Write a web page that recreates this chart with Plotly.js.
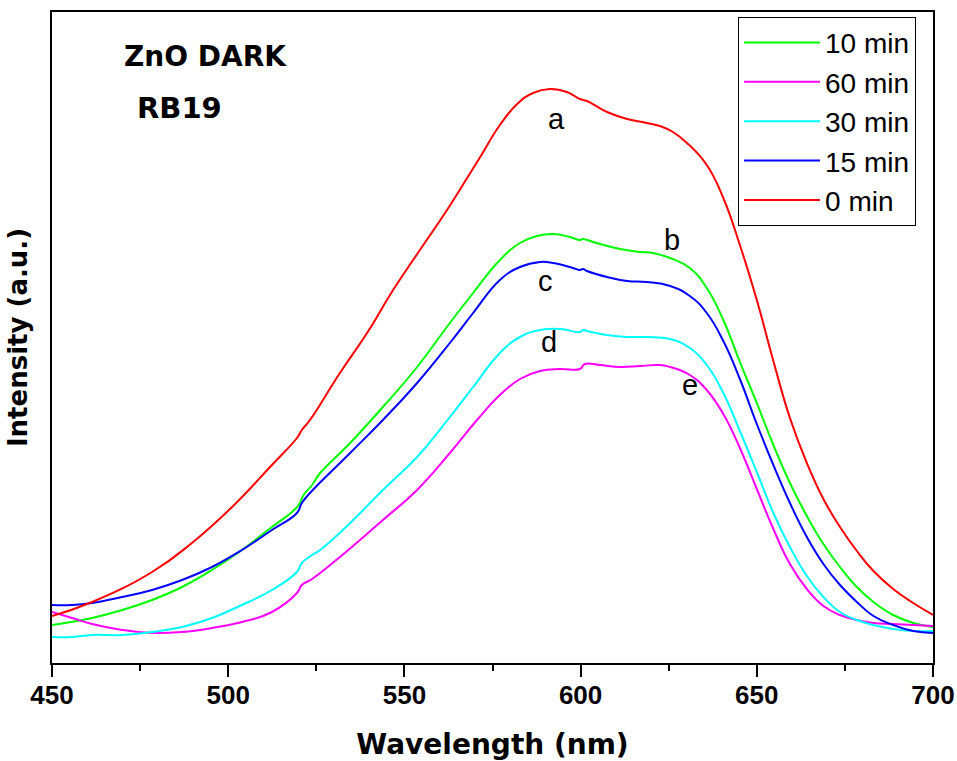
<!DOCTYPE html>
<html><head><meta charset="utf-8">
<script src="https://cdn.plot.ly/plotly-3.0.1.min.js"></script>
<style>html,body{margin:0;padding:0;background:#fff}</style>
</head><body><div id="chart" style="width:957px;height:761px"></div>
<script>
// 10 min (green)
const wl10 = [450, 461.4, 469.9, 478.4, 486.9, 495.4, 503.9, 512.4, 518.1, 520.0, 521.4, 523.8, 526.1, 534.6, 543.9, 553.6, 562.9, 569.5, 577.1, 582.8, 587.6, 592.2, 597.0, 599.8, 600.7, 601.8, 605.5, 611.2, 616.9, 620.5, 625.4, 631.0, 635.8, 640.5, 645.2, 650.0, 654.7, 659.4, 664.2, 668.9, 673.6, 678.4, 683.1, 688.7, 694.4, 700];
const int10 = [38, 45, 53, 63, 76, 93, 113, 136, 151, 158, 168, 178, 190, 220, 256, 296, 340, 370, 403, 420, 427, 429, 426, 423, 424, 423, 419, 414, 411, 410, 405, 395, 375, 343, 301, 260, 218, 180, 147, 119, 96, 76, 61, 48, 40, 36];
// 60 min (magenta)
const wl60 = [450, 455.7, 461.4, 469.9, 478.4, 486.9, 495.4, 503.9, 512.4, 519.5, 520.9, 523.8, 531.7, 543.9, 553.6, 562.9, 570.6, 577.1, 582.8, 588.5, 594.2, 599.8, 601.2, 605.5, 611.2, 616.9, 622.5, 625.4, 631.0, 635.8, 640.5, 645.2, 650.0, 654.7, 659.4, 664.2, 668.9, 673.6, 678.4, 683.1, 688.7, 694.4, 700];
const int60 = [51, 45, 39, 33, 30, 31, 35, 41, 51, 70, 78, 84, 106, 143, 173, 210, 243, 268, 284, 292, 294, 294, 299, 298, 296, 297, 298, 296, 288, 273, 249, 215, 174, 134, 99, 74, 57, 48, 43, 40, 39, 38, 37];
// 30 min (cyan)
const wl30 = [450, 455.7, 461.4, 469.9, 478.4, 486.9, 495.4, 503.9, 512.4, 519.5, 520.9, 523.8, 526.1, 534.6, 543.9, 553.6, 562.9, 569.5, 577.1, 582.8, 588.5, 594.2, 599.8, 600.7, 601.8, 607.5, 613.2, 618.8, 625.4, 631.0, 635.8, 640.5, 645.2, 650.0, 654.7, 659.4, 664.2, 668.9, 673.6, 678.4, 683.1, 688.7, 694.4, 700];
const int30 = [26, 26, 28, 28, 31, 36, 45, 58, 73, 91, 100, 108, 113, 140, 173, 206, 246, 276, 310, 326, 333, 334, 331, 333, 332, 328, 326, 326, 324, 315, 298, 270, 232, 191, 150, 116, 87, 66, 51, 43, 38, 34, 32, 32];
// 15 min (blue)
const wl15 = [450, 455.7, 461.4, 469.9, 478.4, 486.9, 495.4, 503.9, 512.4, 519.5, 520.9, 523.2, 534.6, 543.9, 553.6, 562.9, 569.5, 577.1, 582.8, 588.5, 592.2, 597.8, 599.8, 600.7, 601.8, 607.5, 613.2, 618.8, 625.4, 631.0, 635.8, 640.5, 645.2, 650.0, 654.7, 659.4, 664.2, 668.9, 673.6, 678.4, 683.1, 688.7, 694.4, 700];
const int15 = [58, 58, 60, 66, 73, 83, 96, 113, 133, 150, 160, 170, 210, 243, 280, 320, 350, 383, 396, 401, 400, 395, 393, 394, 392, 386, 382, 381, 377, 367, 350, 322, 284, 239, 198, 160, 126, 99, 78, 61, 47, 38, 32, 30];
// 0 min (red)
const wl0 = [450, 461.4, 478.4, 489.7, 501.1, 512.4, 519.5, 520.9, 523.2, 531.7, 539.4, 546.8, 554.4, 562.1, 567.8, 571.5, 577.1, 582.0, 586.5, 591.3, 596.1, 599.8, 601.8, 607.5, 613.2, 618.8, 622.5, 626.2, 630.2, 635.8, 640.5, 645.2, 650.0, 654.7, 659.4, 664.2, 668.9, 673.6, 678.4, 683.1, 688.7, 694.4, 700];
const int0 = [47, 61, 91, 120, 156, 198, 225, 233, 243, 290, 330, 373, 413, 453, 485, 506, 538, 559, 570, 574, 571, 564, 562, 551, 544, 540, 537, 531, 520, 498, 465, 418, 363, 302, 245, 200, 164, 136, 112, 92, 74, 60, 48];

const seriesNames = ['10 min', '60 min', '30 min', '15 min', '0 min'];
const seriesX = [wl10, wl60, wl30, wl15, wl0];
const seriesY = [int10, int60, int30, int15, int0];
const seriesColors = ['#00ff00', '#ff00ff', '#00ffff', '#0000ff', '#ff0000'];

const curveLabels = ['a', 'b', 'c', 'd', 'e'];
const labelX = [593.2, 625.9, 589.9, 591.0, 631.0];
const labelY = [544, 423, 382, 321, 278];

const traces = seriesNames.map((n, i) => ({
  type: 'scatter', mode: 'lines', name: n,
  x: seriesX[i], y: seriesY[i],
  line: {color: seriesColors[i], width: 2, shape: 'spline', smoothing: 1.3, simplify: false}
}));

const annotations = curveLabels.map((t, i) => ({
  x: labelX[i], y: labelY[i], xref: 'x', yref: 'y', text: t, showarrow: false,
  xanchor: 'center', yanchor: 'middle',
  font: {family: 'Liberation Sans, Arial, sans-serif', size: 29, color: '#000'}
}));
annotations.push({x: 0.1748, y: 0.9309, xref: 'paper', yref: 'paper', text: 'ZnO DARK', showarrow: false,
  xanchor: 'center', yanchor: 'middle',
  font: {family: 'DejaVu Sans, sans-serif', size: 28, color: '#000', weight: 'bold'}});
annotations.push({x: 0.1447, y: 0.8525, xref: 'paper', yref: 'paper', text: 'RB19', showarrow: false,
  xanchor: 'center', yanchor: 'middle',
  font: {family: 'DejaVu Sans, sans-serif', size: 29, color: '#000', weight: 'bold'}});

const layout = {
  width: 957, height: 761,
  margin: {l: 52, r: 24, t: 12, b: 98},
  paper_bgcolor: '#fff', plot_bgcolor: '#fff',
  showlegend: true,
  legend: {x: 0.7787, y: 0.9928, xanchor: 'left', yanchor: 'top',
    bordercolor: '#000', borderwidth: 1, bgcolor: '#fff',
    font: {family: 'Liberation Sans, Arial, sans-serif', size: 28, color: '#000'},
    itemwidth: 76, tracegroupgap: 0},
  xaxis: {
    range: [450, 700], tickvals: [450, 500, 550, 600, 650, 700],
    ticks: 'outside', ticklen: 12, tickwidth: 2, tickcolor: '#000',
    ticklabelstandoff: -4,
    minor: {dtick: 25, ticks: 'outside', ticklen: 6, tickwidth: 2, tickcolor: '#000'},
    showline: true, linewidth: 2, linecolor: '#000', mirror: true,
    showgrid: false, zeroline: false,
    tickfont: {family: 'Liberation Sans, Arial, sans-serif', size: 26, color: '#000', weight: 'bold'},
    title: {text: 'Wavelength (nm)', standoff: 26,
      font: {family: 'DejaVu Sans, sans-serif', size: 28, color: '#000', weight: 'bold'}}
  },
  yaxis: {
    range: [0, 651], showticklabels: false, ticks: '',
    showline: true, linewidth: 2, linecolor: '#000', mirror: true,
    showgrid: false, zeroline: false,
    title: {text: 'Intensity (a.u.)', standoff: 15,
      font: {family: 'DejaVu Sans, sans-serif', size: 26, color: '#000', weight: 'bold'}}
  },
  annotations: annotations
};

Plotly.newPlot('chart', traces, layout, {staticPlot: true, displayModeBar: false});
</script></body></html>
